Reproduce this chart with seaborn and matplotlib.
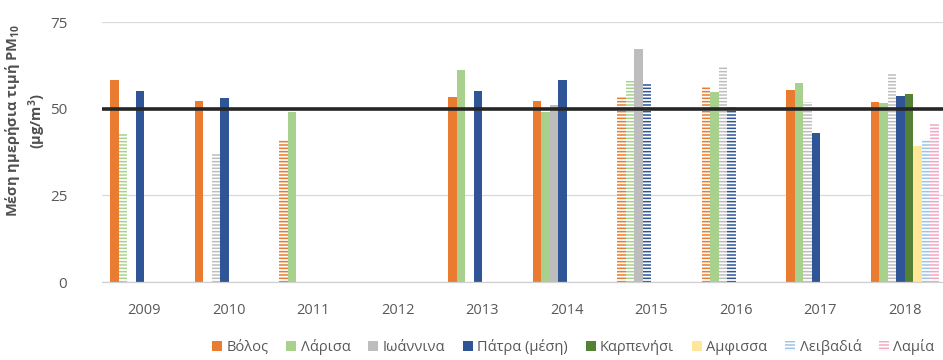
import numpy as np
import pandas as pd
import matplotlib
matplotlib.use("Agg")
import matplotlib.pyplot as plt
from matplotlib.patches import Patch
from matplotlib.ticker import FixedLocator
import seaborn as sns

nan = np.nan

# Annual mean of daily PM10 values per city
years = ["2009", "2010", "2011", "2012", "2013", "2014", "2015", "2016", "2017", "2018"]
volos = [58.2, 52.2, 41.1, nan, 53.4, 52.2, 53.4, 56.3, 55.5, 52.0]
larisa = [43.0, nan, 49.1, nan, 61.1, 49.1, 58.0, 54.7, 57.5, 51.5]
ioannina = [nan, 36.9, nan, nan, nan, 51.2, 67.3, 62.2, 51.8, 60.4]
patra = [55.0, 53.2, nan, nan, 55.0, 58.2, 57.3, 50.5, 43.1, 53.7]
karpenisi = [nan, nan, nan, nan, nan, nan, nan, nan, nan, 54.1]
amfissa = [nan, nan, nan, nan, nan, nan, nan, nan, nan, 39.2]
leivadia = [nan, nan, nan, nan, nan, nan, nan, nan, nan, 41.2]
lamia = [nan, nan, nan, nan, nan, nan, nan, nan, nan, 45.7]
limit_value = 50

cities = ["Βόλος", "Λάρισα", "Ιωάννινα", "Πάτρα (μέση)", "Καρπενήσι", "Αμφισσα", "Λειβαδιά", "Λαμία"]
series = [volos, larisa, ioannina, patra, karpenisi, amfissa, leivadia, lamia]

# Year/city pairs shown with a striped fill
striped = {
    ("2009", "Λάρισα"), ("2010", "Ιωάννινα"), ("2011", "Βόλος"),
    ("2015", "Βόλος"), ("2015", "Λάρισα"), ("2015", "Πάτρα (μέση)"),
    ("2016", "Βόλος"), ("2016", "Ιωάννινα"), ("2016", "Πάτρα (μέση)"),
    ("2017", "Ιωάννινα"), ("2018", "Ιωάννινα"), ("2018", "Λειβαδιά"), ("2018", "Λαμία"),
}

colors = ["#E97C30", "#A9D18E", "#BDBDBD", "#2F5597", "#548235", "#FFE699", "#9DC3E6", "#F2A7C3"]
striped_legend = {"Λειβαδιά", "Λαμία"}

rows = []
for city, vals in zip(cities, series):
    for y, v in zip(years, vals):
        rows.append({"year": y, "city": city, "value": v})
df = pd.DataFrame(rows)

sns.set_theme(style="white")
plt.rcParams["font.family"] = ["Open Sans", "DejaVu Sans"]
plt.rcParams["mathtext.default"] = "regular"
plt.rcParams["hatch.linewidth"] = 1.1

fig = plt.figure(figsize=(9.43, 3.6), dpi=100)
ax = fig.add_axes([102 / 943, 1 - 282 / 360, 845 / 943, 260 / 360])

sns.barplot(data=df.dropna(), x="year", y="value", hue="city", order=years,
            hue_order=cities, palette=colors, width=0.8, errorbar=None,
            saturation=1, legend=False, ax=ax, zorder=2)

for city, color, cont in zip(cities, colors, ax.containers):
    for bar in cont:
        idx = int(round(bar.get_x() + bar.get_width() / 2))
        bar.set_linewidth(0)
        if (years[idx], city) in striped:
            bar.set_facecolor("white")
            bar.set_edgecolor(color)
            bar.set_hatch("-----")

ax.axhline(limit_value, color="#262626", lw=2.6, zorder=4)

ax.set_xlim(-0.5, len(years) - 0.5)
ax.set_ylim(0, 75)
ax.set_yticks([0, 25, 50, 75])
ax.yaxis.grid(True, color="#D9D9D9", lw=0.9)
ax.set_axisbelow(True)
for s in ["top", "right", "left"]:
    ax.spines[s].set_visible(False)
ax.spines["bottom"].set_color("#D0D0D0")
ax.spines["bottom"].set_linewidth(0.9)

ax.tick_params(axis="x", which="major", length=0, pad=15, labelsize=10.5, labelcolor="#595959")
ax.xaxis.set_minor_locator(FixedLocator(np.arange(-0.5, len(years), 1.0)))
ax.tick_params(axis="x", which="minor", length=6, width=0.9, color="#D0D0D0", direction="out")
ax.tick_params(axis="y", length=0, pad=25, labelsize=11, labelcolor="#595959")
ax.set_xlabel("")
ax.set_ylabel("")

fig.text(0.027, 0.665, "Μέση ημερήσια τιμή PM$_{10}$\n(μg/m$^{3}$)", rotation=90,
         ha="center", va="center", multialignment="center", fontsize=10.5,
         fontweight="bold", color="#505050", linespacing=1.25)

handles = []
for city, color in zip(cities, colors):
    if city in striped_legend:
        handles.append(Patch(facecolor="white", edgecolor=color, hatch="-----", lw=0, label=city))
    else:
        handles.append(Patch(facecolor=color, lw=0, label=city))
fig.legend(handles=handles, loc="center", bbox_to_anchor=(0.608, 0.035), ncol=8,
           frameon=False, fontsize=10.5, handlelength=0.7, handleheight=0.7,
           handletextpad=0.3, columnspacing=1.2, labelcolor="#595959")

fig.savefig("out.png", dpi=100)
